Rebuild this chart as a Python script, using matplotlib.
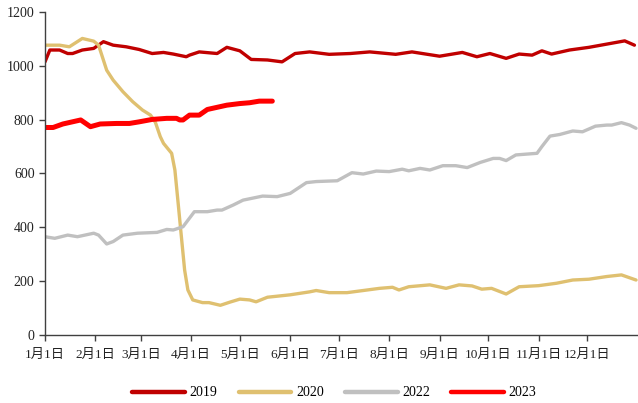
import matplotlib
matplotlib.use("Agg")
import matplotlib.pyplot as plt
import numpy as np

# Day-of-year positions and values
d2019 = [0, 3, 9, 14, 17, 23, 30, 36, 42, 50, 58, 66, 73, 79, 87, 89, 95, 106, 112, 120, 127, 137, 146, 154, 163, 175, 188, 200, 216, 226, 243, 257, 266, 274, 284, 292, 300, 306, 312, 323, 335, 346, 357, 363]
v2019 = [1015, 1059, 1059, 1046, 1046, 1059, 1065, 1090, 1077, 1071, 1061, 1046, 1050, 1044, 1034, 1040, 1052, 1046, 1069, 1056, 1024, 1022, 1015, 1046, 1052, 1043, 1046, 1052, 1043, 1052, 1036, 1050, 1034, 1046, 1028, 1044, 1040, 1056, 1044, 1059, 1069, 1081, 1093, 1077]

d2020 = [0, 9, 15, 23, 30, 33, 38, 42, 48, 54, 60, 65, 68, 71, 73, 78, 80, 82, 84, 86, 88, 91, 97, 101, 108, 114, 120, 126, 130, 137, 151, 163, 167, 175, 186, 196, 206, 214, 218, 224, 237, 247, 255, 263, 269, 275, 284, 292, 304, 315, 325, 335, 346, 355, 364]
v2020 = [1077, 1077, 1071, 1102, 1092, 1077, 984, 947, 904, 867, 836, 817, 790, 737, 712, 675, 613, 490, 365, 241, 167, 130, 120, 120, 110, 122, 133, 130, 123, 140, 149, 160, 165, 157, 157, 165, 173, 177, 167, 179, 186, 173, 186, 182, 170, 173, 152, 179, 183, 192, 204, 207, 217, 223, 204]

d2022 = [0, 6, 14, 20, 30, 33, 38, 42, 48, 57, 69, 75, 79, 85, 92, 100, 106, 109, 116, 122, 134, 143, 151, 161, 167, 180, 189, 196, 204, 212, 220, 224, 231, 237, 245, 253, 260, 268, 276, 280, 284, 290, 303, 306, 311, 317, 325, 331, 339, 346, 349, 355, 360, 364]
v2022 = [365, 359, 371, 365, 378, 371, 338, 347, 371, 378, 381, 392, 390, 402, 458, 458, 464, 464, 483, 501, 516, 514, 526, 566, 570, 573, 603, 598, 609, 607, 616, 610, 619, 613, 629, 629, 622, 641, 656, 656, 648, 669, 675, 700, 739, 745, 758, 755, 776, 780, 780, 789, 780, 768]

d2023 = [0, 5, 11, 22, 28, 34, 44, 52, 58, 66, 75, 81, 83, 85, 89, 95, 100, 106, 112, 120, 126, 132, 140]
v2023 = [771, 771, 784, 799, 774, 784, 786, 786, 792, 801, 805, 805, 799, 799, 817, 817, 838, 846, 854, 860, 863, 869, 869]

month_ticks = [0, 31, 59, 90, 120, 151, 181, 212, 243, 273, 304, 334]
month_labels = ["1月1日", "2月1日", "3月1日", "4月1日", "5月1日", "6月1日",
                "7月1日", "8月1日", "9月1日", "10月1日", "11月1日", "12月1日"]
y_ticks = [0, 200, 400, 600, 800, 1000, 1200]

plt.rcParams['font.family'] = ['Liberation Serif', 'Noto Sans CJK SC']

fig = plt.figure(figsize=(6.38, 4.03), dpi=100)
ax = fig.add_axes([0.0705, 0.169, 0.929, 0.801])

ax.plot(d2019, v2019, color="#C00000", lw=2.4, label="2019", solid_capstyle="round")
ax.plot(d2020, v2020, color="#DFC070", lw=2.4, label="2020", solid_capstyle="round")
ax.plot(d2022, v2022, color="#C0C0C0", lw=2.4, label="2022", solid_capstyle="round")
ax.plot(d2023, v2023, color="#FF0000", lw=3.6, label="2023", solid_capstyle="round")

ax.set_xlim(0, 365)
ax.set_ylim(0, 1200)
ax.set_xticks(month_ticks)
ax.set_xticklabels(month_labels, fontsize=9.5, color="#222222")
ax.set_yticks(y_ticks)
ax.set_yticklabels([str(v) for v in y_ticks], fontsize=10, color="#222222")
for s in ["top", "right"]:
    ax.spines[s].set_visible(False)
for s in ["left", "bottom"]:
    ax.spines[s].set_color("#404040")
    ax.spines[s].set_linewidth(1.0)
ax.tick_params(axis="both", direction="out", length=4, color="#404040", width=1.0)
ax.tick_params(axis="x", pad=6)

leg = fig.legend(loc="center", bbox_to_anchor=(0.524, 0.025), ncol=4, frameon=False,
                 fontsize=10, handlelength=3.8, handletextpad=0.35, columnspacing=1.5)
for line in leg.get_lines():
    line.set_linewidth(3.2)

fig.savefig("out.png", dpi=100)
